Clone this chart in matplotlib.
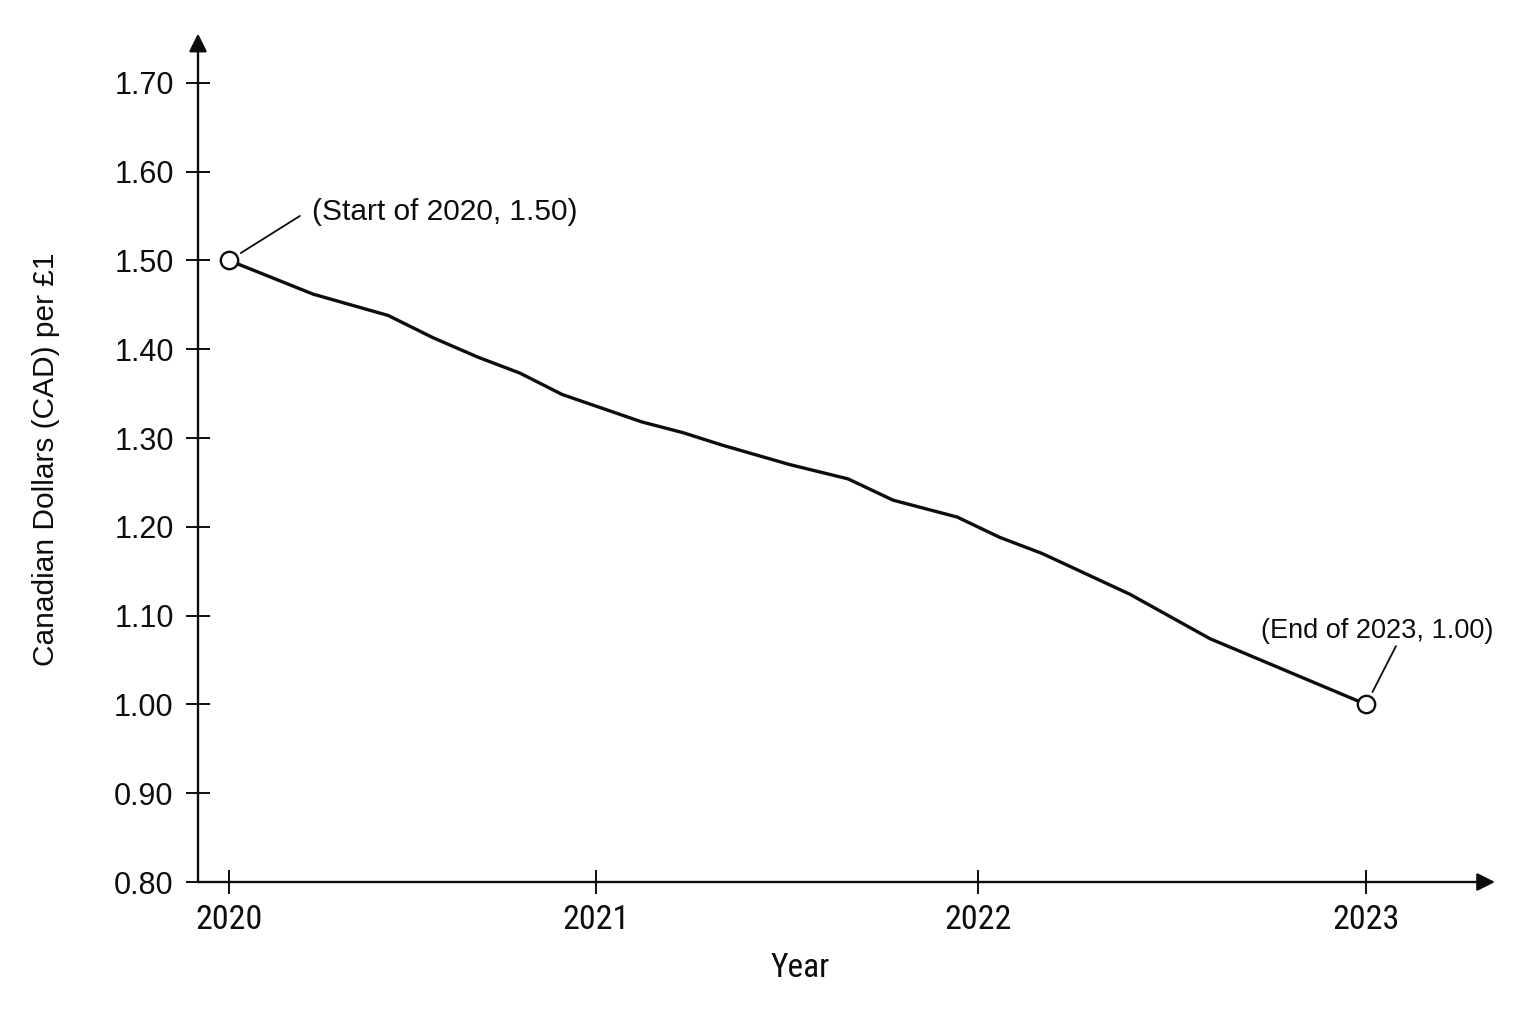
import os
import matplotlib
matplotlib.use("Agg")
import matplotlib.pyplot as plt
from matplotlib import font_manager
from matplotlib.font_manager import FontProperties

# fonts: regular Arial-like for the y side, a narrow cut for the x side if there is one
names = {f.name for f in font_manager.fontManager.ttflist}
REG = "Liberation Sans" if "Liberation Sans" in names else "DejaVu Sans"

files = {os.path.basename(f.fname).lower(): f.fname
         for f in font_manager.fontManager.ttflist}
narrow_file = None
for cand in ["liberationsansnarrow-regular.ttf", "robotocondensed-regular.ttf",
             "dejavusanscondensed.ttf", "notosans-condensed.ttf",
             "opensans-condensed-regular.ttf", "opensans_condensed-regular.ttf"]:
    if cand in files:
        narrow_file = files[cand]
        break

if narrow_file:
    x_font = FontProperties(fname=narrow_file, size=24.5)
    xlab_font = FontProperties(fname=narrow_file, size=24)
else:
    x_font = FontProperties(family=REG, size=23)
    xlab_font = FontProperties(family=REG, size=22)

# Data: years since start of 2020 (x) and CAD per GBP (y)
years = [0.0, 0.222, 0.420, 0.538, 0.657, 0.768, 0.879, 1.090, 1.198,
         1.301, 1.480, 1.633, 1.752, 1.921, 2.034, 2.145, 2.377, 2.588, 3.0]
rate = [1.500, 1.462, 1.438, 1.413, 1.391, 1.373, 1.349, 1.318, 1.306,
        1.292, 1.270, 1.254, 1.230, 1.211, 1.188, 1.170, 1.124, 1.074, 1.000]

year_ticks = [0.0, 0.968, 1.976, 3.0]
year_labels = ["2020", "2021", "2022", "2023"]
rate_ticks = [0.80, 0.90, 1.00, 1.10, 1.20, 1.30, 1.40, 1.50, 1.60, 1.70]

start_label = "(Start of 2020, 1.50)"
end_label = "(End of 2023, 1.00)"

INK = "#0d0d0d"

fig = plt.figure(figsize=(15.36, 10.24), dpi=100)
ax = fig.add_axes([198 / 1536, 1 - 882 / 1024, 1297 / 1536, 845 / 1024])

ax.plot(years, rate, color=INK, lw=2.4, solid_joinstyle="round", zorder=3)
ax.plot([years[0], years[-1]], [rate[0], rate[-1]], ls="none", marker="o",
        ms=12.5, mfc="white", mec=INK, mew=1.7, zorder=4, clip_on=False)

ax.set_xlim(-0.0818, 3.340)
ax.set_ylim(0.80, 1.7516)

for s in ax.spines.values():
    s.set_visible(False)

# axis lines with arrow heads
arrow = dict(arrowstyle="-|>", lw=1.7, color=INK, shrinkA=0, shrinkB=0,
             mutation_scale=27)
ax.annotate("", xy=(0, 1.004), xytext=(0, 0), xycoords="axes fraction",
            arrowprops=arrow)
ax.annotate("", xy=(1, 0), xytext=(0, 0), xycoords="axes fraction",
            arrowprops=arrow)

ax.set_xticks(year_ticks)
ax.set_xticklabels(year_labels, fontproperties=x_font, color=INK)
ax.set_yticks(rate_ticks)
ax.set_yticklabels([f"{v:.2f}" for v in rate_ticks], fontfamily=REG,
                   fontsize=22, color=INK)
ax.tick_params(axis="both", direction="inout", length=17, width=1.4,
               color=INK)
ax.tick_params(axis="y", pad=9)
ax.tick_params(axis="x", pad=7)

ax.set_xlabel("Year", fontproperties=xlab_font, color=INK)
ax.xaxis.set_label_coords(0.464, -0.083)
ax.set_ylabel("Canadian Dollars (CAD) per £1", fontfamily=REG,
              fontsize=21.5, color=INK, labelpad=39)

# leader lines and callouts
lead = dict(arrowstyle="-", lw=1.3, color=INK, shrinkA=0, shrinkB=10)
ax.annotate("", xy=(years[0], rate[0]), xytext=(51, 32),
            textcoords="offset points", arrowprops=lead)
ax.annotate(start_label, xy=(years[0], rate[0]), xytext=(60, 35),
            textcoords="offset points", ha="left", va="center",
            fontfamily=REG, fontsize=21.5, color=INK)
ax.annotate("", xy=(years[-1], rate[-1]), xytext=(21.5, 42),
            textcoords="offset points", arrowprops=lead)
ax.annotate(end_label, xy=(years[-1], rate[-1]), xytext=(8, 53),
            textcoords="offset points", ha="center", va="center",
            fontfamily=REG, fontsize=19.5, color=INK)

fig.savefig("out.png", dpi=100, facecolor="white")
